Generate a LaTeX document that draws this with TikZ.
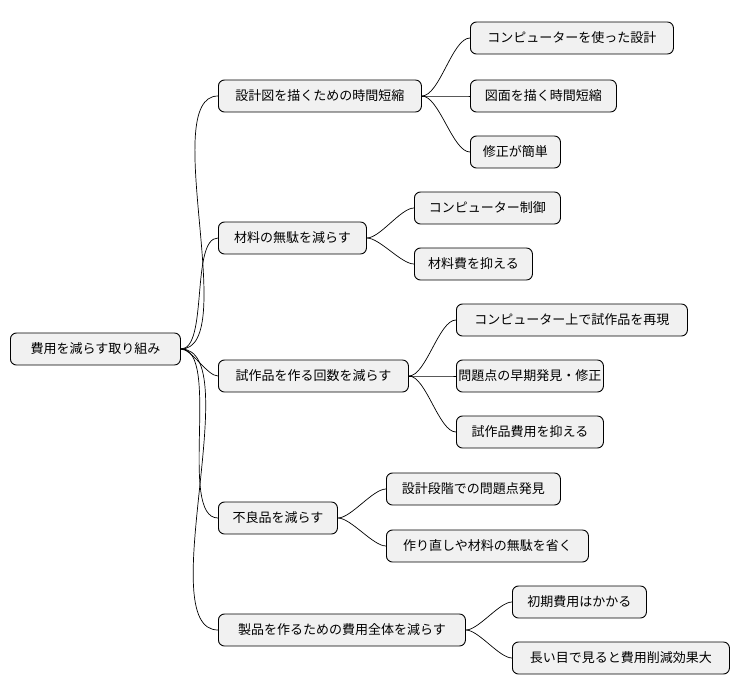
\documentclass[tikz,border=0pt]{standalone}
\usepackage{fontspec}
\setmainfont{Noto Sans CJK JP}
\begin{document}
\begin{tikzpicture}[x=1pt,y=-1pt,
  box/.style={draw=black,line width=0.9pt,fill={rgb,255:red,241;green,241;blue,241},rounded corners=6pt,anchor=west,minimum height=32pt,inner xsep=0pt,font=\fontsize{13}{15}\selectfont},
  con/.style={line width=0.7pt,out=0,in=180,looseness=0.6}]
\useasboundingbox (0,0) rectangle (740,696);
\node[box,minimum width=170pt] (r) at (10,349) {費用を減らす取り組み};
\node[box,minimum width=203pt] (a) at (218,96) {設計図を描くための時間短縮};
\node[box,minimum width=148pt] (b) at (218,238) {材料の無駄を減らす};
\node[box,minimum width=190pt] (c) at (218,376) {試作品を作る回数を減らす};
\node[box,minimum width=119pt] (d) at (218,518) {不良品を減らす};
\node[box,minimum width=247pt] (e) at (218,630) {製品を作るための費用全体を減らす};
\node[box,minimum width=203pt] (a1) at (470,38) {コンピューターを使った設計};
\node[box,minimum width=146pt] (a2) at (470,96) {図面を描く時間短縮};
\node[box,minimum width=90pt] (a3) at (470,152) {修正が簡単};
\node[box,minimum width=146pt] (b1) at (414,208) {コンピューター制御};
\node[box,minimum width=118pt] (b2) at (414,264) {材料費を抑える};
\node[box,minimum width=231pt] (c1) at (456,320) {コンピューター上で試作品を再現};
\node[box,minimum width=147pt] (c2) at (456,376) {問題点の早期発見・修正};
\node[box,minimum width=147pt] (c3) at (456,432) {試作品費用を抑える};
\node[box,minimum width=174pt] (d1) at (386,489) {設計段階での問題点発見};
\node[box,minimum width=202pt] (d2) at (386,546) {作り直しや材料の無駄を省く};
\node[box,minimum width=134pt] (e1) at (512,602) {初期費用はかかる};
\node[box,minimum width=217pt] (e2) at (512,658) {長い目で見ると費用削減効果大};
\foreach \p/\c in {r/a,r/b,r/c,r/d,r/e,a/a1,a/a2,a/a3,b/b1,b/b2,c/c1,c/c2,c/c3,d/d1,d/d2,e/e1,e/e2}
  \draw[con] (\p.east) to (\c.west);
\end{tikzpicture}
\end{document}
